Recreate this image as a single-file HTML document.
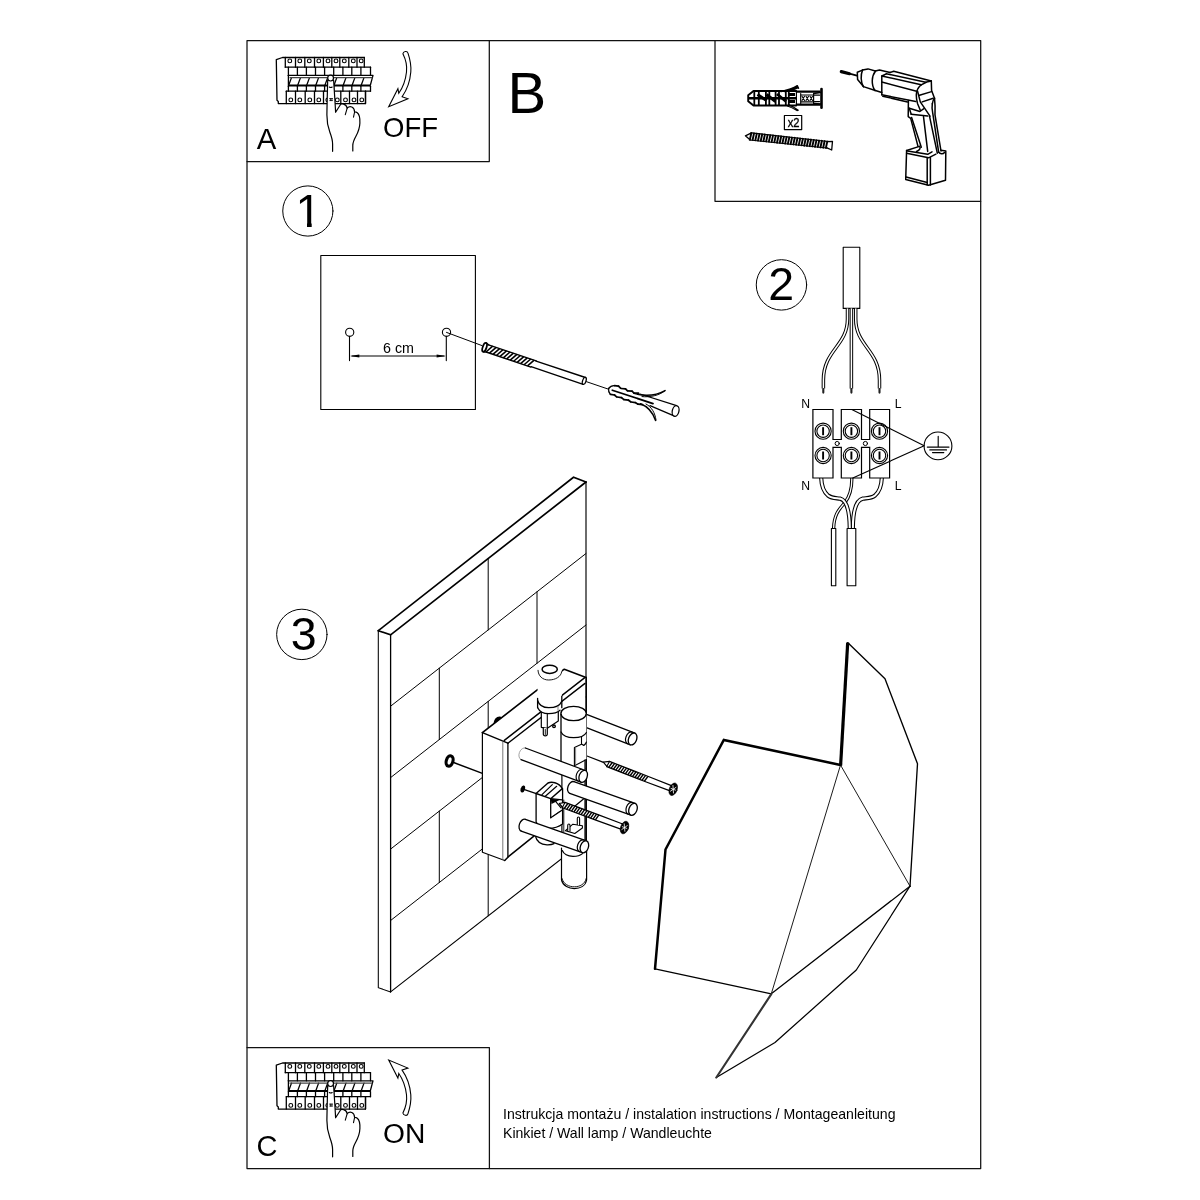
<!DOCTYPE html>
<html lang="pl">
<head>
<meta charset="utf-8">
<title>Instrukcja montażu</title>
<style>
html,body{margin:0;padding:0;background:#fff;}
body{width:1200px;height:1200px;overflow:hidden;position:relative;font-family:"Liberation Sans",sans-serif;}
svg{position:absolute;left:0;top:0;display:block;will-change:transform;}
svg text{font-family:"Liberation Sans",sans-serif;fill:#000;}
svg{stroke-linecap:round;stroke-linejoin:round;}
.l{fill:none;stroke:#000;}
.w{fill:#fff;stroke:#000;}
.k{fill:#000;stroke:none;}
</style>
</head>
<body>
<svg width="1200" height="1200" viewBox="0 0 1200 1200">
<g class="l" stroke-width="1.25" style="stroke:#111">
<rect x="247" y="40.5" width="733.7" height="1128"/>
<path d="M247 161.5H489.3V40.5"/>
<path d="M715 40.5V201.3H980.7"/>
<path d="M247 1047.5H489.4V1168.5"/>
</g>
<text x="256.8" y="148.8" font-size="29.3">A</text>
<text x="383" y="137.2" font-size="27.5">OFF</text>
<text x="507.5" y="113" font-size="58">B</text>
<text x="256.5" y="1156.4" font-size="29">C</text>
<text x="383" y="1142.8" font-size="28.2">ON</text>
<text x="503" y="1118.9" font-size="14.1">Instrukcja montażu / instalation instructions / Montageanleitung</text>
<text x="503" y="1137.6" font-size="14.1">Kinkiet / Wall lamp / Wandleuchte</text>
<g class="l" stroke-width="1.0">
<circle cx="307.85" cy="211" r="25.1"/>
<circle cx="781.45" cy="284.9" r="25.2"/>
<circle cx="301.85" cy="634.4" r="25.2"/>
</g>
<clipPath id="c1"><path d="M288 188H311.7V228H307V223H288Z"/></clipPath>
<text x="295.6" y="227" font-size="46.5" clip-path="url(#c1)">1</text>
<text x="781.3" y="300.2" font-size="46.5" text-anchor="middle">2</text>
<text x="303.8" y="650.4" font-size="46.5" text-anchor="middle">3</text>
<g transform="translate(0,0)">
<g class="l" stroke-width="1.3">
<path d="M364.3 57.5H282.5L276.3 59.6L277 100.2L278.3 101.4V103.6H365.5V91.2"/>
<path d="M285.3 57.5V67.2"/>
<path d="M295.5 57.5V67.2"/>
<path d="M304.8 57.5V67.2"/>
<path d="M314.5 57.5V67.2"/>
<path d="M323.4 57.5V67.2"/>
<path d="M331.8 57.5V67.2"/>
<path d="M339.8 57.5V67.2"/>
<path d="M348.8 57.5V67.2"/>
<path d="M357 57.5V67.2"/>
<path d="M364.3 57.5V67.2"/>
<path d="M285.3 67.2H370.5"/>
<path d="M288.4 67.2V75.3"/>
<path d="M288.4 86.2V91.2"/>
<path d="M297.4 67.2V75.3"/>
<path d="M297.4 86.2V91.2"/>
<path d="M306.4 67.2V75.3"/>
<path d="M306.4 86.2V91.2"/>
<path d="M315.5 67.2V75.3"/>
<path d="M315.5 86.2V91.2"/>
<path d="M324.6 67.2V75.3"/>
<path d="M324.6 86.2V91.2"/>
<path d="M333.7 67.2V75.3"/>
<path d="M333.7 86.2V91.2"/>
<path d="M342.9 67.2V75.3"/>
<path d="M342.9 86.2V91.2"/>
<path d="M351.8 67.2V75.3"/>
<path d="M351.8 86.2V91.2"/>
<path d="M360.9 67.2V75.3"/>
<path d="M360.9 86.2V91.2"/>
<path d="M370.5 67.2V75.3"/>
<path d="M370.5 86.2V91.2"/>
<path d="M288.3 75.3H373L370.4 85"/>
<path d="M286.3 91.2H370.5"/>
<path d="M286.3 91.2V103.6"/>
<path d="M295.5 91.2V103.6"/>
<path d="M305.2 91.2V103.6"/>
<path d="M314.5 91.2V103.6"/>
<path d="M323.5 91.2V103.6"/>
<path d="M332.2 91.2V103.6"/>
<path d="M340.8 91.2V103.6"/>
<path d="M349.5 91.2V103.6"/>
<path d="M357.5 91.2V103.6"/>
<path d="M365.5 91.2V103.6"/>
<path d="M291.5 77.6L288.79999999999995 85"/>
<path d="M300.5 77.6L297.79999999999995 85"/>
<path d="M309.5 77.6L306.79999999999995 85"/>
<path d="M318.6 77.6L315.9 85"/>
<path d="M327.70000000000005 77.6L325.0 85"/>
<path d="M336.8 77.6L334.09999999999997 85"/>
<path d="M346.0 77.6L343.29999999999995 85"/>
<path d="M354.90000000000003 77.6L352.2 85"/>
<path d="M364.0 77.6L361.29999999999995 85"/>
</g>
<path class="l" style="stroke:#444" stroke-width="1.25" stroke-linecap="butt" d="M289.5 77.7H372.3"/>
<path class="l" stroke-width="1.3" d="M288.4 75.3V86.2"/>
<path class="l" stroke-width="2" stroke-linecap="butt" d="M288.3 85.6H370.6"/>
<g class="l" stroke-width="1.1">
<circle cx="289.8" cy="60.9" r="1.9"/>
<circle cx="299.8" cy="60.9" r="1.9"/>
<circle cx="309.3" cy="60.9" r="1.9"/>
<circle cx="318.8" cy="60.9" r="1.9"/>
<circle cx="328" cy="60.9" r="1.9"/>
<circle cx="336" cy="60.9" r="1.9"/>
<circle cx="344.3" cy="60.9" r="1.9"/>
<circle cx="353.3" cy="60.9" r="1.9"/>
<circle cx="361.2" cy="60.9" r="1.9"/>
<circle cx="290.8" cy="99.9" r="1.9"/>
<circle cx="299.8" cy="99.9" r="1.9"/>
<circle cx="309.8" cy="99.9" r="1.9"/>
<circle cx="318.8" cy="99.9" r="1.9"/>
<circle cx="327.8" cy="99.9" r="1.9"/>
<circle cx="337.3" cy="99.9" r="1.9"/>
<circle cx="345.5" cy="99.9" r="1.9"/>
<circle cx="354" cy="99.9" r="1.9"/>
<circle cx="361.8" cy="99.9" r="1.9"/>
</g>
<path fill="#fff" stroke="none" d="M327.7 80 C327.4 92 327 105 326.9 115 C326.8 123 328.3 128 329.8 132 C331.5 136.5 332.6 140 332.6 144 V151.3 L352.8 151 V145.5 C352.8 142 354.2 139.5 355.8 136.5 C358 132.5 359.7 128.5 359.9 123 C360.1 118 359.5 114.5 357.3 112.8 C356.2 112 355.2 111.9 354.6 112 C354.5 110 353.6 107.8 351.8 107 C350.2 106.4 348.3 107 347.2 108.2 C346.8 106.4 345.6 104.6 343.6 104.1 C342.2 103.8 341.2 104 340.7 104.2 L335.6 112.3 C335.2 104 334.4 92 333.6 80 Z"/>
<path class="l" stroke-width="1.2" d="M327.7 80 C327.4 92 327 105 326.9 115 C326.8 123 328.3 128 329.8 132 C331.5 136.5 332.6 140 332.6 144 V151.3"/>
<path class="l" stroke-width="1.2" d="M352.8 151 V145.5 C352.8 142 354.2 139.5 355.8 136.5 C358 132.5 359.7 128.5 359.9 123 C360.1 118 359.5 114.5 357.3 112.8 C356.2 112 355.2 111.9 354.6 112 C354.5 110 353.6 107.8 351.8 107 C350.2 106.4 348.3 107 347.2 108.2 C346.8 106.4 345.6 104.6 343.6 104.1 C342.2 103.8 341.2 104 340.7 104.2 L335.6 112.3 C335.2 104 334.4 92 333.6 80"/>
<g class="l" stroke-width="1.1">
<path d="M347.2 108.2L345.3 114.6"/>
<path d="M354.6 112L353.5 117.2"/>
<path d="M329.3 87C330.2 87.6 331.4 87.6 332.2 87"/>
<path d="M329.6 98.6H332.6M329.8 100.6H332.4M330.4 98.6V100.6M331.9 98.6V100.6" stroke-width="0.8"/>
</g>
<circle class="w" stroke-width="1.2" cx="330.6" cy="78.1" r="2.9"/>
</g>
<g transform="translate(0,1005.5)">
<g class="l" stroke-width="1.3">
<path d="M364.3 57.5H282.5L276.3 59.6L277 100.2L278.3 101.4V103.6H365.5V91.2"/>
<path d="M285.3 57.5V67.2"/>
<path d="M295.5 57.5V67.2"/>
<path d="M304.8 57.5V67.2"/>
<path d="M314.5 57.5V67.2"/>
<path d="M323.4 57.5V67.2"/>
<path d="M331.8 57.5V67.2"/>
<path d="M339.8 57.5V67.2"/>
<path d="M348.8 57.5V67.2"/>
<path d="M357 57.5V67.2"/>
<path d="M364.3 57.5V67.2"/>
<path d="M285.3 67.2H370.5"/>
<path d="M288.4 67.2V75.3"/>
<path d="M288.4 86.2V91.2"/>
<path d="M297.4 67.2V75.3"/>
<path d="M297.4 86.2V91.2"/>
<path d="M306.4 67.2V75.3"/>
<path d="M306.4 86.2V91.2"/>
<path d="M315.5 67.2V75.3"/>
<path d="M315.5 86.2V91.2"/>
<path d="M324.6 67.2V75.3"/>
<path d="M324.6 86.2V91.2"/>
<path d="M333.7 67.2V75.3"/>
<path d="M333.7 86.2V91.2"/>
<path d="M342.9 67.2V75.3"/>
<path d="M342.9 86.2V91.2"/>
<path d="M351.8 67.2V75.3"/>
<path d="M351.8 86.2V91.2"/>
<path d="M360.9 67.2V75.3"/>
<path d="M360.9 86.2V91.2"/>
<path d="M370.5 67.2V75.3"/>
<path d="M370.5 86.2V91.2"/>
<path d="M288.3 75.3H373L370.4 85"/>
<path d="M286.3 91.2H370.5"/>
<path d="M286.3 91.2V103.6"/>
<path d="M295.5 91.2V103.6"/>
<path d="M305.2 91.2V103.6"/>
<path d="M314.5 91.2V103.6"/>
<path d="M323.5 91.2V103.6"/>
<path d="M332.2 91.2V103.6"/>
<path d="M340.8 91.2V103.6"/>
<path d="M349.5 91.2V103.6"/>
<path d="M357.5 91.2V103.6"/>
<path d="M365.5 91.2V103.6"/>
<path d="M291.5 77.6L288.79999999999995 85"/>
<path d="M300.5 77.6L297.79999999999995 85"/>
<path d="M309.5 77.6L306.79999999999995 85"/>
<path d="M318.6 77.6L315.9 85"/>
<path d="M327.70000000000005 77.6L325.0 85"/>
<path d="M336.8 77.6L334.09999999999997 85"/>
<path d="M346.0 77.6L343.29999999999995 85"/>
<path d="M354.90000000000003 77.6L352.2 85"/>
<path d="M364.0 77.6L361.29999999999995 85"/>
</g>
<path class="l" style="stroke:#444" stroke-width="1.25" stroke-linecap="butt" d="M289.5 77.7H372.3"/>
<path class="l" stroke-width="1.3" d="M288.4 75.3V86.2"/>
<path class="l" stroke-width="2" stroke-linecap="butt" d="M288.3 85.6H370.6"/>
<g class="l" stroke-width="1.1">
<circle cx="289.8" cy="60.9" r="1.9"/>
<circle cx="299.8" cy="60.9" r="1.9"/>
<circle cx="309.3" cy="60.9" r="1.9"/>
<circle cx="318.8" cy="60.9" r="1.9"/>
<circle cx="328" cy="60.9" r="1.9"/>
<circle cx="336" cy="60.9" r="1.9"/>
<circle cx="344.3" cy="60.9" r="1.9"/>
<circle cx="353.3" cy="60.9" r="1.9"/>
<circle cx="361.2" cy="60.9" r="1.9"/>
<circle cx="290.8" cy="99.9" r="1.9"/>
<circle cx="299.8" cy="99.9" r="1.9"/>
<circle cx="309.8" cy="99.9" r="1.9"/>
<circle cx="318.8" cy="99.9" r="1.9"/>
<circle cx="327.8" cy="99.9" r="1.9"/>
<circle cx="337.3" cy="99.9" r="1.9"/>
<circle cx="345.5" cy="99.9" r="1.9"/>
<circle cx="354" cy="99.9" r="1.9"/>
<circle cx="361.8" cy="99.9" r="1.9"/>
</g>
<path fill="#fff" stroke="none" d="M327.7 80 C327.4 92 327 105 326.9 115 C326.8 123 328.3 128 329.8 132 C331.5 136.5 332.6 140 332.6 144 V151.3 L352.8 151 V145.5 C352.8 142 354.2 139.5 355.8 136.5 C358 132.5 359.7 128.5 359.9 123 C360.1 118 359.5 114.5 357.3 112.8 C356.2 112 355.2 111.9 354.6 112 C354.5 110 353.6 107.8 351.8 107 C350.2 106.4 348.3 107 347.2 108.2 C346.8 106.4 345.6 104.6 343.6 104.1 C342.2 103.8 341.2 104 340.7 104.2 L335.6 112.3 C335.2 104 334.4 92 333.6 80 Z"/>
<path class="l" stroke-width="1.2" d="M327.7 80 C327.4 92 327 105 326.9 115 C326.8 123 328.3 128 329.8 132 C331.5 136.5 332.6 140 332.6 144 V151.3"/>
<path class="l" stroke-width="1.2" d="M352.8 151 V145.5 C352.8 142 354.2 139.5 355.8 136.5 C358 132.5 359.7 128.5 359.9 123 C360.1 118 359.5 114.5 357.3 112.8 C356.2 112 355.2 111.9 354.6 112 C354.5 110 353.6 107.8 351.8 107 C350.2 106.4 348.3 107 347.2 108.2 C346.8 106.4 345.6 104.6 343.6 104.1 C342.2 103.8 341.2 104 340.7 104.2 L335.6 112.3 C335.2 104 334.4 92 333.6 80"/>
<g class="l" stroke-width="1.1">
<path d="M347.2 108.2L345.3 114.6"/>
<path d="M354.6 112L353.5 117.2"/>
<path d="M329.3 87C330.2 87.6 331.4 87.6 332.2 87"/>
<path d="M329.6 98.6H332.6M329.8 100.6H332.4M330.4 98.6V100.6M331.9 98.6V100.6" stroke-width="0.8"/>
</g>
<circle class="w" stroke-width="1.2" cx="330.6" cy="78.1" r="2.9"/>
</g>
<path class="l" stroke-width="1.1" stroke-linejoin="miter" d="M402.9 53.8 C403.2 51.2 407.3 50.6 407.9 52.9 C410.3 60 411.3 66 410.8 72 C410 82 406.5 90.5 402.1 96.7 L407.9 98.7 L388.7 106.7 L397.9 88.7 L398.8 93.3 C402.5 88 405.6 80 406.5 72 C407.2 66 406 60 402.9 53.8 Z"/>
<path class="l" stroke-width="1.1" stroke-linejoin="miter" transform="translate(0,1166.8) scale(1,-1)" d="M402.9 53.8 C403.2 51.2 407.3 50.6 407.9 52.9 C410.3 60 411.3 66 410.8 72 C410 82 406.5 90.5 402.1 96.7 L407.9 98.7 L388.7 106.7 L397.9 88.7 L398.8 93.3 C402.5 88 405.6 80 406.5 72 C407.2 66 406 60 402.9 53.8 Z"/>
<g class="l" stroke-width="1.9">
<path d="M753.5 91H796.2M753.5 105.5H796.2M753.5 91L748.2 95.3V101.2L753.5 105.5"/>
</g>
<g class="l" stroke-width="1.8" stroke-linecap="butt">
<path d="M754.3 90.8V105.7"/>
<path d="M758.8 90.8V105.7"/>
<path d="M765.9 90.8V105.7"/>
<path d="M769.3 90.8V105.7"/>
<path d="M775.6 90.8V105.7"/>
<path d="M779 90.8V105.7"/>
<path d="M785.8 90.8V105.7"/>
<path d="M788.8 90.8V105.7"/>
</g>
<path class="l" stroke-width="2.6" stroke-linecap="butt" d="M748.2 98.3H796"/>
<g class="l" stroke-width="2.9" stroke-linecap="butt">
<path d="M757.5 94.5L766.5 100.5M766.5 94.5L775.5 101.5M777 94L786 101.5M788 94.5H795M788 101.5H795"/>
</g>
<path class="k" d="M781 91.6C787 90.2 792.5 88.6 797.3 85.6L798.6 88.3C794 90.4 789 91.6 785 92.2Z"/>
<path class="l" stroke-width="1.3" d="M781 91.6C787 90.2 792.5 88.6 797.3 85.6L798.6 88.3"/>
<path class="l" stroke-width="1.2" d="M788.5 104.6C792 106 795 107.8 798.3 110.2L797 110.6C794 108.8 791 107.2 787.5 106"/>
<path class="l" stroke-width="2.2" stroke-linecap="butt" d="M796.2 91.6H820.5M797 104.6H820.5"/>
<path class="l" stroke-width="1.2" d="M796.4 91V105.3M800.7 93.5V103.5M813.6 93.5V103.5M800.7 95H813.6M800.7 101.8H813.6"/>
<path class="l" stroke-width="1.1" d="M802 96.3L804.5 100.5M804.5 96.3L802 100.5M806 96.3L808.5 100.5M808.5 96.3L806 100.5M810 96.3L812.5 100.5M812.5 96.3L810 100.5"/>
<path class="l" stroke-width="1.3" d="M813.6 93.5L820.5 92.5M813.6 103.5L820.5 104M814.5 95.2H819.5M814.5 101.6H819.5"/>
<path class="l" stroke-width="2.6" d="M821.5 89V107.7"/>
<rect class="l" stroke-width="1.2" x="784.4" y="115.5" width="17.3" height="14.1"/>
<text transform="translate(787.7 126.9) scale(0.9 1)" font-size="12.4" stroke="#000" stroke-width="0.35">x2</text>
<g class="l" stroke-width="1.3">
<path d="M751.5 132.8L745.4 135.8L750 139.8"/>
<path d="M827.5 141.6L832.5 141.3L831.7 150L827 147.8"/>
</g>
<path class="l" stroke-width="1.2" d="M751.5 132.8L827.5 141.5M749.8 140L827 148"/>
<g class="l" stroke-width="1.9" stroke-linecap="butt">
<path d="M751.50 132.30L749.70 140.50"/>
<path d="M754.21 132.60L752.41 140.80"/>
<path d="M756.93 132.89L755.13 141.09"/>
<path d="M759.64 133.19L757.84 141.39"/>
<path d="M762.36 133.49L760.56 141.69"/>
<path d="M765.07 133.78L763.27 141.98"/>
<path d="M767.79 134.08L765.99 142.28"/>
<path d="M770.50 134.38L768.70 142.57"/>
<path d="M773.21 134.67L771.41 142.87"/>
<path d="M775.93 134.97L774.13 143.17"/>
<path d="M778.64 135.26L776.84 143.46"/>
<path d="M781.36 135.56L779.56 143.76"/>
<path d="M784.07 135.86L782.27 144.06"/>
<path d="M786.79 136.15L784.99 144.35"/>
<path d="M789.50 136.45L787.70 144.65"/>
<path d="M792.21 136.75L790.41 144.95"/>
<path d="M794.93 137.04L793.13 145.24"/>
<path d="M797.64 137.34L795.84 145.54"/>
<path d="M800.36 137.64L798.56 145.84"/>
<path d="M803.07 137.93L801.27 146.13"/>
<path d="M805.79 138.23L803.99 146.43"/>
<path d="M808.50 138.53L806.70 146.72"/>
<path d="M811.21 138.82L809.41 147.02"/>
<path d="M813.93 139.12L812.13 147.32"/>
<path d="M816.64 139.41L814.84 147.61"/>
<path d="M819.36 139.71L817.56 147.91"/>
<path d="M822.07 140.01L820.27 148.21"/>
<path d="M824.79 140.30L822.99 148.50"/>
<path d="M827.50 140.60L825.70 148.80"/>
</g>
<path class="l" stroke-width="3.2" d="M841.3 71.6L849.5 73.7"/>
<path class="l" stroke-width="1.9" d="M849.5 73.7L857 75.6"/>
<g class="l" stroke-width="1.5">
<path d="M862.5 70.1L857.3 72.3L857.6 79.6L863.4 86.6"/>
<path d="M862.5 70.1C860.5 75 860.7 82 863.4 86.6"/>
<path d="M862.5 70.1L868 68.9L875.3 71"/>
<path d="M863.4 86.6L874.6 90.3"/>
<path d="M875.6 71C871.5 76 871 85 875 90.6"/>
<path d="M875.3 71L879.5 69.9L890 72.6"/>
<path d="M874.6 90.3L881.8 92.5"/>
<path d="M881.8 76V94.8"/>
<path d="M890 72.5L893.7 71.2L931.3 81.1"/>
<path d="M886.3 73.8L925.8 82.2"/>
<path d="M881.8 76L886.3 73.8M881.8 76L921.2 84.8"/>
<path d="M881.8 82L916.6 91.2"/>
<path d="M881.8 94.8L915.8 101.5"/>
<path d="M882.8 96.2L907.5 101.9"/>
<path d="M921.2 84.8C918 87.5 916.4 91 916.3 95C916.2 98 916.6 100 917.6 103.7L920.3 110.2"/>
<path d="M921.2 84.8L926.7 82L931.3 81.1"/>
<path d="M931.3 81.1L931.6 90.5L934.5 98.2"/>
<path d="M919.5 95.2L931.5 91.6"/>
<path d="M922.2 101.9L933.2 98.2"/>
<path d="M917.5 91L920.3 101.9L930 116.1"/>
<path d="M908.4 100.5L908.2 116.6L910.7 118.4L918 146.4"/>
<path d="M911.6 117.5L921.3 147.3"/>
<path d="M909.3 108.3L919.9 111.5L923.5 108.8"/>
<path d="M911.2 114.3L927.7 116.1"/>
<path d="M909.3 108.3L911.2 114.3"/>
<path d="M923.5 116.6L927.7 151.4"/>
<path d="M929.5 116.1L937.3 153.2"/>
<path d="M934.5 98.2C935.2 104 935.2 110 935 114.8L941 151"/>
<path d="M932.3 103.8C931.8 107 932 110 932.7 112.9L938.7 152.3"/>
<path d="M934.5 98.2C933 100 932.5 102 932.3 103.8"/>
<path d="M906.6 150.5L905.7 179.4L928.6 185.3L945.5 180.3L945.8 151L941 150.2"/>
<path d="M906.6 150.5L919.4 146.4"/>
<path d="M906.6 153.2L928.6 157.8L935.9 154.2"/>
<path d="M907.5 151L927.7 154.3L932 151.8"/>
<path d="M927.2 157.8V184.9M930.4 157.4V184.9"/>
<path d="M906.1 177.1L927.2 182.6"/>
<path d="M919.4 146.4C921 147.5 920 150 916.5 151.5"/>
<path d="M938.7 152.3C940 154 943 154.5 944.5 152.5"/>
</g>
<g class="l" stroke-width="1.1">
<rect x="320.8" y="255.5" width="154.6" height="154"/>
<circle cx="349.7" cy="332.3" r="4.1"/>
<circle cx="446.5" cy="332.3" r="4.1"/>
<path d="M349.5 336.4V360.6M446.3 336.4V360.6"/>
<path d="M352 356H444"/>
</g>
<path class="k" d="M349.9 356L359.3 354.4V357.6Z"/>
<path class="k" d="M446 356L436.6 354.4V357.6Z"/>
<text x="383" y="353.1" font-size="14.3">6 cm</text>
<path class="l" stroke-width="1" d="M446.5 332.4L482 345.6"/>
<path class="l" stroke-width="1" d="M586.5 381.7L608.5 389.2"/>
<ellipse class="w" stroke-width="1.8" cx="484.6" cy="347.3" rx="1.9" ry="4.6" transform="rotate(18.57 484.6 347.3)"/>
<path class="l" stroke-width="1.4" d="M486.24 343.10L488.70 344.88M483.31 351.82L486.28 352.08"/>
<path class="l" stroke-width="1.4" d="M488.51 344.81L536.19 360.83M486.09 352.02L530.93 367.08"/>
<g class="l" stroke-width="1.55" stroke-linecap="butt">
<path d="M492.68 346.21L486.00 351.98"/>
<path d="M496.14 347.38L489.46 353.15"/>
<path d="M499.60 348.54L492.92 354.31"/>
<path d="M503.06 349.70L496.38 355.47"/>
<path d="M506.52 350.86L499.84 356.63"/>
<path d="M509.98 352.03L503.30 357.80"/>
<path d="M513.44 353.19L506.76 358.96"/>
<path d="M516.90 354.35L510.22 360.12"/>
<path d="M520.36 355.51L513.68 361.28"/>
<path d="M523.82 356.68L517.14 362.45"/>
<path d="M527.28 357.84L520.60 363.61"/>
<path d="M530.74 359.00L524.06 364.77"/>
<path d="M534.20 360.16L527.52 365.93"/>
</g>
<path class="l" stroke-width="1.4" d="M536.10 361.12L585.45 377.49M531.06 366.70L583.15 384.31"/>
<ellipse class="w" stroke-width="1.3" cx="584.3" cy="380.9" rx="1.7" ry="3.6" transform="rotate(18.57 584.3 380.9)"/>
<g class="l" stroke-width="1.3">
<path d="M640 394L676.6 405.6M650 405.6L674.6 416.2"/>
<ellipse class="w" cx="675.6" cy="411" rx="3.3" ry="5.4" transform="rotate(14 675.6 411)"/>
<path d="M608.6 388.5C608.3 390.5 608.8 392.5 610.3 394.3"/>
<path d="M608.6 388.5C610 386.6 612 385.4 614.5 385.6"/>
</g>
<path class="l" stroke-width="1.7" d="M612.3 390.2L653 403.6"/>
<g class="l" stroke-width="1.7">
<path d="M614.5 385.7L618.5 386.2M621 388.5L625.5 388.8M627.5 390.8L632 391.2M634 393L638.5 393.2"/>
<path d="M618.5 386.2L620.5 388.2M625.5 388.8L627.3 390.6M632 391.2L633.8 392.8"/>
<path d="M610.5 394.4L614.5 395M617 397L621.5 397.6M624 399.6L628.5 400.2M631 402L635.5 402.6M638 404.2L642.5 404.6"/>
<path d="M614.5 395L616.6 396.8M621.5 397.6L623.6 399.4M628.5 400.2L630.6 401.8M635.5 402.6L637.6 404"/>
</g>
<path class="l" stroke-width="1.5" d="M634 393.4C645 396.4 656.5 395.4 665 390.6"/>
<path class="l" stroke-width="1.0" d="M642 396.6C650 397.4 659 395.6 665 390.8"/>
<path class="l" stroke-width="1.5" d="M640.5 403.8C648 406.6 652.8 412.5 655.6 420.4"/>
<path class="l" stroke-width="1.0" d="M646 404C651.6 407 655 412.6 656 420"/>
<rect class="l" stroke-width="1.1" x="843.2" y="247.3" width="16.6" height="61.1"/>
<path class="l" stroke-linecap="butt" stroke-width="3.5" d="M847.5 308.4V319C847.5 346 823.4 350 823.4 380V388.4"/><path class="l" stroke-linecap="butt" style="stroke:#fff" stroke-width="1.5" d="M847.5 308.4V319C847.5 346 823.4 350 823.4 380V388.4"/>
<path class="l" stroke-linecap="butt" stroke-width="3.5" d="M855.7 308.4V319C855.7 346 879.5 350 879.5 380V388.4"/><path class="l" stroke-linecap="butt" style="stroke:#fff" stroke-width="1.5" d="M855.7 308.4V319C855.7 346 879.5 350 879.5 380V388.4"/>
<path class="l" stroke-linecap="butt" stroke-width="3.5" d="M851.4 308.4V388.6"/><path class="l" stroke-linecap="butt" style="stroke:#fff" stroke-width="1.5" d="M851.4 308.4V388.6"/>
<path class="l" stroke-width="2.1" style="stroke:#222" d="M823.3 389V392.6M851.4 389V392.6M879.5 389V392.6"/>
<path class="l" stroke-linecap="butt" stroke-width="3.3" d="M851.8 478C852 488 850 496 845 502.5C840.5 508 834 513 833.6 528.4"/><path class="l" stroke-linecap="butt" style="stroke:#fff" stroke-width="1.3" d="M851.8 478C852 488 850 496 845 502.5C840.5 508 834 513 833.6 528.4"/>
<path class="l" stroke-linecap="butt" stroke-width="4.2" d="M881.8 478C881.5 486 879 492 875 495.5C871 498.6 867 498 862.8 498.6C856.5 500 853 510 852.8 528.4"/><path class="l" stroke-linecap="butt" style="stroke:#fff" stroke-width="2.1" d="M881.8 478C881.5 486 879 492 875 495.5C871 498.6 867 498 862.8 498.6C856.5 500 853 510 852.8 528.4"/>
<path class="l" stroke-linecap="butt" stroke-width="4.2" d="M821.2 478C821.5 486 824 492 828 495.5C832 498.6 836 498 840 498.6C846 500 849.6 510 849.8 528.4"/><path class="l" stroke-linecap="butt" style="stroke:#fff" stroke-width="2.1" d="M821.2 478C821.5 486 824 492 828 495.5C832 498.6 836 498 840 498.6C846 500 849.6 510 849.8 528.4"/>
<rect class="w" stroke-width="1.1" x="831.4" y="528.5" width="4.4" height="57.2"/>
<rect class="w" stroke-width="1.1" x="847.1" y="528.5" width="8.7" height="57.2"/>
<g class="l" stroke-width="1.2" stroke-linejoin="miter">
<path d="M812.9 409.5H833V439.5H841.3V409.5H861.5V439.5H869.7V409.5H889.6V478H869.7V447.4H861.5V478H841.3V447.4H833V478H812.9Z" fill="#fff"/>
</g>
<g class="l" stroke-width="1">
<circle cx="837.2" cy="443.5" r="2.1"/><circle cx="865.4" cy="443.5" r="2.1"/>
</g>
<circle class="l" stroke-width="1.1" cx="823.1" cy="431.2" r="8.1"/>
<circle class="l" stroke-width="1.1" cx="823.1" cy="431.2" r="6.2"/>
<path class="l" stroke-width="1.9" stroke-linecap="butt" d="M823.1 427.2V435.2"/>
<circle class="l" stroke-width="1.1" cx="823.1" cy="455.5" r="8.1"/>
<circle class="l" stroke-width="1.1" cx="823.1" cy="455.5" r="6.2"/>
<path class="l" stroke-width="1.9" stroke-linecap="butt" d="M823.1 451.5V459.5"/>
<circle class="l" stroke-width="1.1" cx="851.4" cy="431.2" r="8.1"/>
<circle class="l" stroke-width="1.1" cx="851.4" cy="431.2" r="6.2"/>
<path class="l" stroke-width="1.9" stroke-linecap="butt" d="M851.4 427.2V435.2"/>
<circle class="l" stroke-width="1.1" cx="851.4" cy="455.5" r="8.1"/>
<circle class="l" stroke-width="1.1" cx="851.4" cy="455.5" r="6.2"/>
<path class="l" stroke-width="1.9" stroke-linecap="butt" d="M851.4 451.5V459.5"/>
<circle class="l" stroke-width="1.1" cx="879.5" cy="431.2" r="8.1"/>
<circle class="l" stroke-width="1.1" cx="879.5" cy="431.2" r="6.2"/>
<path class="l" stroke-width="1.9" stroke-linecap="butt" d="M879.5 427.2V435.2"/>
<circle class="l" stroke-width="1.1" cx="879.5" cy="455.5" r="8.1"/>
<circle class="l" stroke-width="1.1" cx="879.5" cy="455.5" r="6.2"/>
<path class="l" stroke-width="1.9" stroke-linecap="butt" d="M879.5 451.5V459.5"/>
<path class="l" stroke-width="1.1" d="M851.8 409.5L924.2 445.8L852.8 478"/>
<circle class="l" stroke-width="1.1" cx="938" cy="445.9" r="13.9"/>
<path class="l" stroke-width="1.15" d="M938.2 436.3V447M927.3 447.1H949M929.8 449.9H946.5M932.5 452.6H943.8"/>
<text x="801.3" y="407.9" font-size="12.2">N</text>
<text x="894.7" y="407.9" font-size="12.2">L</text>
<text x="801.3" y="490" font-size="12.2">N</text>
<text x="894.7" y="490" font-size="12.2">L</text>
<path class="l" stroke-width="1.35" d="M847.6 642.6L885 678.8L917.5 763.8L910 886.2"/>
<path class="l" stroke-width="1.25" d="M910 886.2L856.3 970L775 1042.5L716.3 1077.5"/>
<path class="l" stroke-width="1.25" d="M655 968.8L771.3 993.8L910 886.2"/>
<path class="l" stroke-width="0.9" d="M771.3 993.8L840.5 765L910 886.2"/>
<path class="l" stroke-width="2.1" style="stroke:#333" d="M771.3 994.2L716.3 1077.5"/>
<path class="l" stroke-width="2.5" stroke-linejoin="miter" d="M840.5 765L723.8 740L665.5 849.5L655 968.8"/>
<path class="l" stroke-width="3.2" stroke-linecap="butt" d="M847.7 642.6L840.6 765.6"/>
<g class="l" stroke-width="1.7" stroke-linejoin="miter">
<path d="M378.3 630.7L573.5 477.3L586.0 482.0"/>
<path d="M378.3 630.7L390.6 634.8L586.0 482.0"/>
</g>
<g class="l" stroke-width="1.2" stroke-linejoin="miter">
<path stroke-width="1.05" d="M378.3 630.7V987.7L390.6 991.9"/>
<path stroke-width="1.3" d="M390.6 991.9V634.8"/>
<path stroke-width="1.15" d="M390.6 991.9L586.0 839.6V482.0"/>
</g>
<g class="l" stroke-width="1.0">
<path d="M390.6 706.2L586.0 553.5"/>
<path d="M390.6 777.6L586.0 625.0"/>
<path d="M390.6 849.1L586.0 696.6"/>
<path d="M390.6 920.5L586.0 768.1"/>
<path d="M488.2 558.5V629.9"/>
<path d="M439.3 668.2V739.6"/>
<path d="M537 591.8V663.3"/>
<path d="M488.2 701.4V772.9"/>
<path d="M439.3 811.1V882.5"/>
<path d="M537 734.8V806.3"/>
<path d="M488.2 844.4V915.8"/>
</g>
<ellipse class="l" stroke-width="3.1" cx="449.6" cy="761" rx="3.3" ry="5.3" transform="rotate(16 449.6 761)"/>
<path class="l" stroke-width="1.5"  d="M453.6 762.5L482.4 773.4"/>
<path fill="#fff" stroke="none" d="M482.4 732.6L564.3 669.2L585.4 677.3V797L508.2 857L504.7 860.5L482.5 852.3Z"/>
<path class="l" stroke-width="1.7"  d="M482.4 732.6L537.6 689.6"/>
<path class="l" stroke-width="1.5"  d="M561.6 671.2L564.3 669.2L585.4 677.3"/>
<path class="l" stroke-width="1.4"  d="M482.4 732.6L507.9 743.2"/>
<path class="l" stroke-width="1.2"  d="M482.4 732.6V852.3L504.7 860.5"/>
<path class="l" stroke-width="0.8" style="stroke:#555" d="M502.8 741V859.6"/>
<path class="l" stroke-width="1.3"  d="M507.9 743.2V857"/>
<path class="l" stroke-width="1.5"  d="M504.7 860.5L508.4 856.7L533.9 836.1"/>
<path class="l" stroke-width="1.4"  d="M504.3 740.4L584.8 677.6"/>
<path class="l" stroke-width="1.4"  d="M507.9 743.2L585 683.4"/>
<path class="k" d="M493.6 724C493.6 719.5 496.6 716.3 500 716.6C501 716.7 501.8 717.2 502.2 717.6Z"/>
<path fill="#fff" stroke="none" d="M585.26 713.83L634.86 733.23L630.34 744.77L580.74 725.37Z"/>
<path class="l" stroke-width="1.3"  d="M585.26 713.83L634.86 733.23M580.74 725.37L630.34 744.77"/>
<path class="l" stroke-width="1.17" d="M632.06 732.13A4.0 6.2 21.36 0 0 627.55 743.68"/>
<ellipse class="w" stroke-width="1.3" cx="632.6" cy="739.0" rx="4.0" ry="6.2" transform="rotate(21.36 632.6 739.0)"/>
<path class="l" stroke-width="1.5"  d="M586.2 677.3V840"/>
<path class="l" stroke-width="1.3"  d="M587 756L603.5 762.3"/>
<path fill="#fff" stroke="none" d="M603.30 762.20L609.49 761.43L673.36 786.15L671.24 791.65L607.36 766.94Z"/>
<path class="l" stroke-width="1.25"  d="M603.30 762.20L609.49 761.43L647.73 776.23L671.41 785.66M603.30 762.20L607.36 766.94L645.60 781.73L669.46 790.70"/>
<path class="l" stroke-width="1.1"  d="M609.49 761.43L606.62 766.65"/>
<g class="l" stroke-width="1.4" stroke-linecap="butt">
<path d="M612.29 762.52L608.67 767.44"/>
<path d="M614.67 763.44L611.05 768.36"/>
<path d="M617.05 764.36L613.43 769.28"/>
<path d="M619.43 765.28L615.80 770.20"/>
<path d="M621.80 766.20L618.18 771.12"/>
<path d="M624.18 767.12L620.56 772.04"/>
<path d="M626.56 768.04L622.94 772.96"/>
<path d="M628.94 768.96L625.32 773.88"/>
<path d="M631.32 769.88L627.70 774.80"/>
<path d="M633.70 770.80L630.07 775.72"/>
<path d="M636.07 771.72L632.45 776.64"/>
<path d="M638.45 772.64L634.83 777.56"/>
<path d="M640.83 773.56L637.21 778.48"/>
<path d="M643.21 774.48L639.59 779.40"/>
<path d="M645.59 775.40L641.96 780.32"/>
<path d="M647.96 776.32L644.34 781.24"/>
</g>
<g transform="rotate(21.15 673.23 789.26)"><ellipse fill="#000" stroke="#000" stroke-width="0.6" cx="673.23" cy="789.26" rx="3.9" ry="6.5"/><path fill="none" stroke="#fff" stroke-width="0.75" d="M671.63 785.86L674.83 792.66M675.13 786.46L671.33 792.06M670.83 789.26H675.63"/></g>
<path class="w" stroke-width="1.2"  d="M541.3 708V727.3L547.3 728.3L558.3 721V708"/>
<path class="l" stroke-width="1.1"  d="M547.3 714V728.3"/>
<path class="w" stroke-width="1.2"  d="M543.3 728V734C543.3 736.4 547.3 736.4 547.3 734V728.3"/>
<path class="l" stroke-width="0.9"  d="M545.3 729.5V734.5"/>
<circle class="l" stroke-width="1.4" cx="554" cy="726.3" r="1.3"/>
<path fill="#fff" stroke="none" d="M537.6 670.5C537.6 664 542 661 549.7 661C557 661 561.8 664 561.8 670.5V707C560 712 555 713.8 549 713.8C543 713.8 539 711 537.6 707.7Z"/>
<ellipse class="w" stroke-width="1.5" cx="549.7" cy="669.3" rx="7.6" ry="4.1"/>
<path class="l" stroke-width="0.9"  d="M538 670.3C538.2 676 542.5 680 548.7 680C555.5 680 561.2 676.6 561.7 671.7"/>
<path class="l" stroke-width="1.3"  d="M537.6 698.3V707.7M561.8 696.3V707.7"/>
<path class="l" stroke-width="1.3"  d="M537.6 700.5C539 705 543.5 707.7 548.7 707.7C554.5 707.7 560 705.5 561.8 701.2"/>
<path class="l" stroke-width="1.3"  d="M537.7 707.7C539.5 711.5 543.5 713.7 548.7 713.7C553 713.7 557.5 712.6 560 710.3"/>
<path class="l" stroke-width="0.9" style="stroke:#777" d="M558 706.3V710.3"/>
<path fill="#fff" stroke="none" d="M561 713.6V760.5L575 766L586.4 759.8V713.6Z"/>
<ellipse class="w" stroke-width="1.4" cx="573.6" cy="713.5" rx="12.7" ry="7.1"/>
<path class="l" stroke-width="1.3"  d="M561 714.5V761.5"/>
<path class="l" stroke-width="1.2"  d="M561 732C563 736 568 737.7 573.6 737.7C579 737.7 584.5 736 586.4 732.5"/>
<path class="l" stroke-width="1.1"  d="M581.5 736.6V744L583.8 745.5C585 744.5 586 743.5 586.4 742"/>
<path class="l" stroke-width="1.1"  d="M581.5 744.3L574.4 747.4V765.8L586.4 759.6"/>
<path class="l" stroke-width="0.8" style="stroke:#666" d="M575.6 747.5V765"/>
<path class="l" stroke-width="1.2"  d="M561.9 766V832"/>
<path class="l" stroke-width="0.9"  d="M563.8 800V832"/>
<path class="l" stroke-width="1.0"  d="M584.9 760V840"/>
<path class="l" stroke-width="1.2"  d="M575 806L583.5 799"/>
<path fill="#fff" stroke="none" d="M536.1 793.5L548 783C552 781.5 559 782.5 562.6 788.5V824C560 828 548 829 545.8 827.4L536.1 822Z"/>
<path class="l" stroke-width="1.4"  d="M536.1 793.5L548 783C551 781.6 558.5 781.8 562.3 788.6L550.7 798.7Z"/>
<path class="l" stroke-width="1.2"  d="M542 794.6L552.3 784.6M545.3 796.2L556.7 786.3"/>
<path class="l" stroke-width="1.3"  d="M536.1 793.5V822C538 826 542 828 546.5 828.3C552 828.6 558 827.5 562.6 824V788.6"/>
<path class="l" stroke-width="1.3"  d="M550.7 798.7V817.7"/>
<path class="k" d="M550.7 798.7L560 799.8L556.5 801.5L551.5 804Z"/>
<path class="l" stroke-width="1.3"  d="M550.7 798.7L562.3 799.8"/>
<path class="l" stroke-width="1.2"  d="M555.6 801.4L561 807.9"/>
<path class="l" stroke-width="1.3"  d="M550.7 817.7L562.3 810"/>
<path class="k" d="M550.7 817.7L559 811.5L562 810.3L553 816.5Z"/>
<ellipse class="k" cx="522.8" cy="789" rx="2.1" ry="3.6" transform="rotate(18 522.8 789)"/>
<path class="l" stroke-width="1.3"  d="M524.5 789.6L536.3 793.6"/>
<path class="w" stroke-width="1.1"  d="M565.4 830.6L572.9 824.2L582.4 825.8L582.4 828L574.8 833.5Z"/>
<path class="w" stroke-width="1.1"  d="M567.7 830.5V825.5C567.7 823.6 570 823.6 570 825.5V831"/>
<path class="w" stroke-width="1.1"  d="M577.3 824.6V818.5C577.3 816.6 579.6 816.6 579.6 818.5V825.2"/>
<path fill="#fff" stroke="none" d="M525.38 747.99L585.38 770.49L581.02 782.11L521.02 759.61Z"/>
<ellipse fill="#fff" stroke="none" cx="523.2" cy="753.8" rx="4.0" ry="6.2" transform="rotate(20.56 523.2 753.8)"/>
<path class="l" stroke-width="0.9" style="stroke:#999" d="M525.38 747.99A4.0 6.2 20.56 0 0 521.02 759.61"/>
<path class="l" stroke-width="1.3"  d="M525.38 747.99L585.38 770.49M521.02 759.61L581.02 782.11"/>
<path class="l" stroke-width="1.17" d="M582.57 769.44A4.0 6.2 20.56 0 0 578.21 781.05"/>
<ellipse class="w" stroke-width="1.3" cx="583.2" cy="776.3" rx="4.0" ry="6.2" transform="rotate(20.56 583.2 776.3)"/>
<path fill="#fff" stroke="none" d="M559.30 803.50L565.01 802.46L624.62 824.43L622.58 829.97L562.97 808.00Z"/>
<path class="l" stroke-width="1.25"  d="M559.30 803.50L565.01 802.46L599.26 815.08L622.66 823.97M559.30 803.50L562.97 808.00L597.22 820.62L620.79 829.04"/>
<path class="l" stroke-width="1.1"  d="M565.01 802.46L562.22 807.72"/>
<g class="l" stroke-width="1.4" stroke-linecap="butt">
<path d="M567.83 803.50L564.28 808.48"/>
<path d="M570.22 804.38L566.68 809.36"/>
<path d="M572.61 805.26L569.07 810.25"/>
<path d="M575.00 806.14L571.46 811.13"/>
<path d="M577.40 807.03L573.86 812.01"/>
<path d="M579.79 807.91L576.25 812.89"/>
<path d="M582.18 808.79L578.64 813.77"/>
<path d="M584.58 809.67L581.03 814.65"/>
<path d="M586.97 810.55L583.43 815.54"/>
<path d="M589.36 811.44L585.82 816.42"/>
<path d="M591.75 812.32L588.21 817.30"/>
<path d="M594.15 813.20L590.60 818.18"/>
<path d="M596.54 814.08L593.00 819.06"/>
<path d="M598.93 814.96L595.39 819.95"/>
</g>
<g transform="rotate(20.23 624.54 827.55)"><ellipse fill="#000" stroke="#000" stroke-width="0.6" cx="624.54" cy="827.55" rx="3.9" ry="6.5"/><path fill="none" stroke="#fff" stroke-width="0.75" d="M622.94 824.15L626.14 830.95M626.44 824.75L622.64 830.35M622.14 827.55H626.94"/></g>
<path fill="#fff" stroke="none" d="M573.88 781.66L635.08 803.46L630.92 815.14L569.72 793.34Z"/>
<ellipse fill="#fff" stroke="none" cx="571.8" cy="787.5" rx="4.0" ry="6.2" transform="rotate(19.61 571.8 787.5)"/>
<path class="l" stroke-width="1.3"  d="M573.88 781.66A4.0 6.2 19.61 0 0 569.72 793.34"/>
<path class="l" stroke-width="1.3"  d="M573.88 781.66L635.08 803.46M569.72 793.34L630.92 815.14"/>
<path class="l" stroke-width="1.17" d="M632.25 802.45A4.0 6.2 19.61 0 0 628.09 814.13"/>
<ellipse class="w" stroke-width="1.3" cx="633" cy="809.3" rx="4.0" ry="6.2" transform="rotate(19.61 633 809.3)"/>
<path class="l" stroke-width="1.2"  d="M535.2 835.5C536.5 841 541 844.6 547 844.8C550 844.9 552.5 844.4 554 843.6"/>
<path fill="#fff" stroke="none" d="M561.5 848V880C563 886 569 888.6 574.3 888.6C580 888.6 585.5 886 586.6 880V848Z"/>
<path class="l" stroke-width="1.2"  d="M561.5 848V880C563 886 569 888.6 574.3 888.6C580 888.6 585.5 886 586.6 880V848"/>
<path class="l" stroke-width="0.9"  d="M562 878.5C563.5 884.3 569 886.8 574.3 886.8C579.6 886.8 585 884.3 586.2 878.5"/>
<path class="l" stroke-width="1.2"  d="M562.3 850.5C564 854.5 568.5 856.3 573 856.3C577 856.3 580.5 855.3 582.5 853.6"/>
<path fill="#fff" stroke="none" d="M525.37 819.35L586.47 840.95L582.33 852.65L521.23 831.05Z"/>
<ellipse fill="#fff" stroke="none" cx="523.3" cy="825.2" rx="4.0" ry="6.2" transform="rotate(19.47 523.3 825.2)"/>
<path class="l" stroke-width="1.3"  d="M525.37 819.35A4.0 6.2 19.47 0 0 521.23 831.05"/>
<path class="l" stroke-width="1.3"  d="M525.37 819.35L586.47 840.95M521.23 831.05L582.33 852.65"/>
<path class="l" stroke-width="1.17" d="M583.64 839.95A4.0 6.2 19.47 0 0 579.51 851.65"/>
<ellipse class="w" stroke-width="1.3" cx="584.4" cy="846.8" rx="4.0" ry="6.2" transform="rotate(19.47 584.4 846.8)"/>
</svg>
</body>
</html>
